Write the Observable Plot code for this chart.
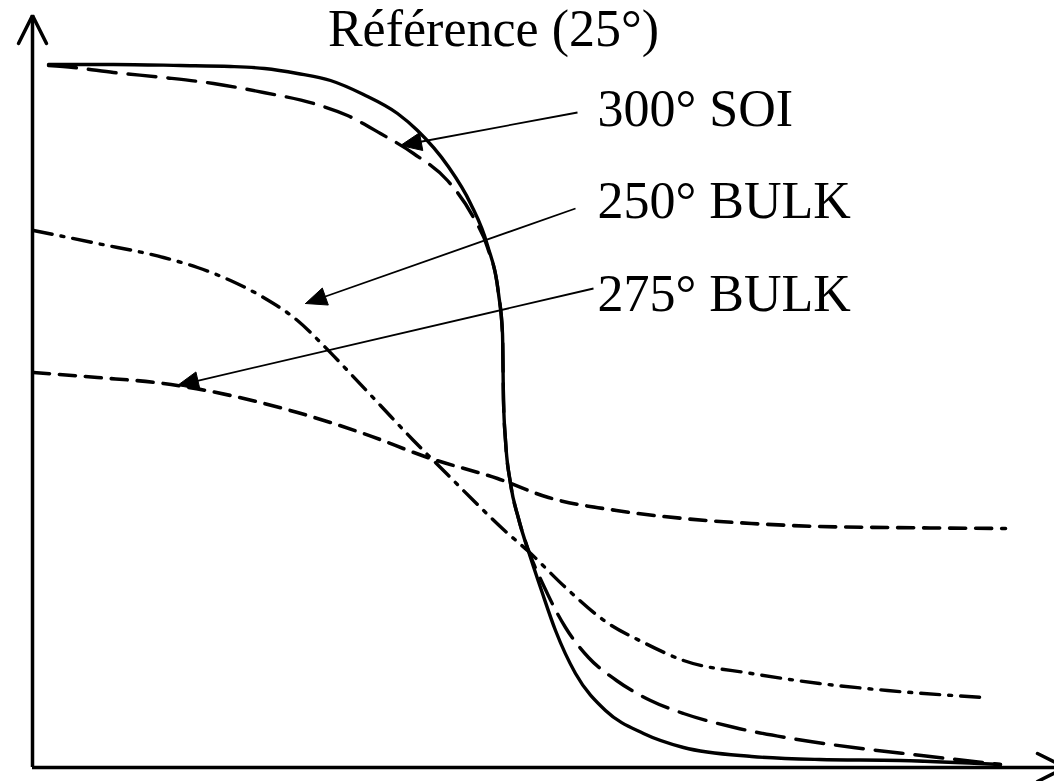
<!DOCTYPE html>
<html>
<head>
<meta charset="utf-8">
<script src="https://cdn.jsdelivr.net/npm/d3@7"></script>
<script src="https://cdn.jsdelivr.net/npm/@observablehq/plot@0.6"></script>
<style>
  html, body { margin: 0; padding: 0; background: #fff; }
  #chart svg { display: block; }
</style>
</head>
<body>
<div id="chart"></div>
<script>
// Curves (arbitrary units)
const refX   = [16,81,148,198,232,265,298,331,365,385,415,438,455,466,470,471,473,478,486,498,509,523,543,573,611,651,719,787,868,968];
const refY   = [703,703,702,701,699,694,687,673,654,637,602,564,522,474,434,367,327,284,249,210,177,137,94,57,34,20,11,8,7,3];
const soiX   = [16,41,81,131,181,231,281,315,348,381,415,441,455,466,470,471,473,478,486,495,512,533,556,584,618,651,702,753,821,889,968];
const soiY   = [702,700,695,690,684,675,664,652,634,614,587,550,520,474,434,367,327,284,249,220,180,140,110,87,67,54,40,30,20,12,3];
const b250X  = [1,65,131,165,198,231,265,291,315,348,381,415,448,472,495,533,573,611,651,719,787,855,951];
const b250Y  = [537,524,510,500,487,470,447,422,397,362,327,293,260,237,217,180,146,125,107,94,84,77,70];
const b275X  = [1,65,131,198,265,331,398,465,516,584,651,719,787,855,973];
const b275Y  = [395,390,384,372,355,334,309,289,270,257,249,244,241,240,239];

// Labels
const titleText = "Référence (25°)";
const labels    = ["300° SOI", "250° BULK", "275° BULK"];
const labelX    = [565, 565, 565];
const labelY    = [642, 550, 457];
// Pointer arrows: start (near label) -> tip (on curve)
const arrowX1 = [545, 543, 561];
const arrowY1 = [655, 559, 479];
const arrowX2 = [368, 273, 145];
const arrowY2 = [622, 464, 382];

// Axis arrow chevrons
const yChevX = [-14, 0, 14], yChevY = [724, 752, 724];
const xChevX = [1005, 1033, 1005], xChevY = [14, 0, -14];

const pts = (xs, ys) => xs.map((x, i) => ({x, y: ys[i]}));

const arrows = arrowX1.map((x1, i) => ({x1, y1: arrowY1[i], x2: arrowX2[i], y2: arrowY2[i], id: i}));
const heads = [];
for (const a of arrows) {
  const dx = a.x2 - a.x1, dy = a.y2 - a.y1, L = Math.hypot(dx, dy);
  const ux = dx / L, uy = dy / L, len = 21, hw = 9;
  const bx = a.x2 - ux * len, by = a.y2 - uy * len;
  heads.push({x: a.x2, y: a.y2, id: a.id});
  heads.push({x: bx - uy * hw, y: by + ux * hw, id: a.id});
  heads.push({x: bx + uy * hw, y: by - ux * hw, id: a.id});
  heads.push({x: a.x2, y: a.y2, id: a.id});
}
const shafts = arrows.map(a => {
  const dx = a.x2 - a.x1, dy = a.y2 - a.y1, L = Math.hypot(dx, dy);
  return {x1: a.x1, y1: a.y1, x2: a.x2 - dx / L * 15, y2: a.y2 - dy / L * 15};
});

const font = "'Liberation Serif', 'Times New Roman', serif";
const curve = "monotone-x";

const chart = Plot.plot({
  width: 1054,
  height: 781,
  margin: 0,
  x: {domain: [-32, 1022], axis: null},
  y: {domain: [-14, 767], axis: null},
  style: {background: "#fff"},
  marks: [
    // axes
    Plot.ruleX([0], {y1: 0, y2: 752, stroke: "black", strokeWidth: 3.5}),
    Plot.ruleY([0], {x1: 0, x2: 1040, stroke: "black", strokeWidth: 3.5}),
    Plot.line(pts(yChevX, yChevY), {x: "x", y: "y", stroke: "black", strokeWidth: 3.5, strokeLinejoin: "miter"}),
    Plot.line(pts(xChevX, xChevY), {x: "x", y: "y", stroke: "black", strokeWidth: 3.5, strokeLinejoin: "miter"}),
    // curves
    Plot.line(pts(b275X, b275Y), {x: "x", y: "y", curve, stroke: "black", strokeWidth: 3.6, strokeDasharray: "16,10"}),
    Plot.line(pts(b250X, b250Y), {x: "x", y: "y", curve, stroke: "black", strokeWidth: 3.4, strokeDasharray: "19,9,3,9"}),
    Plot.line(pts(refX, refY), {x: "x", y: "y", curve, stroke: "black", strokeWidth: 3.4}),
    Plot.line(pts(soiX, soiY), {x: "x", y: "y", curve, stroke: "black", strokeWidth: 3.4, strokeDasharray: "28,12"}),
    // pointer arrows
    Plot.link(shafts, {x1: "x1", y1: "y1", x2: "x2", y2: "y2", stroke: "black", strokeWidth: 1.8}),
    Plot.line(heads, {x: "x", y: "y", z: "id", fill: "black", stroke: "black", strokeWidth: 1}),
    // texts
    Plot.text([titleText], {x: 461, y: 722, text: d => d, textAnchor: "middle", lineAnchor: "bottom", fontSize: 52, fontFamily: font, fill: "black"}),
    Plot.text(labels, {x: (d, i) => labelX[i], y: (d, i) => labelY[i], text: d => d, textAnchor: "start", lineAnchor: "bottom", fontSize: 52, fontFamily: font, fill: "black"})
  ]
});
document.getElementById("chart").appendChild(chart);
</script>
</body>
</html>
